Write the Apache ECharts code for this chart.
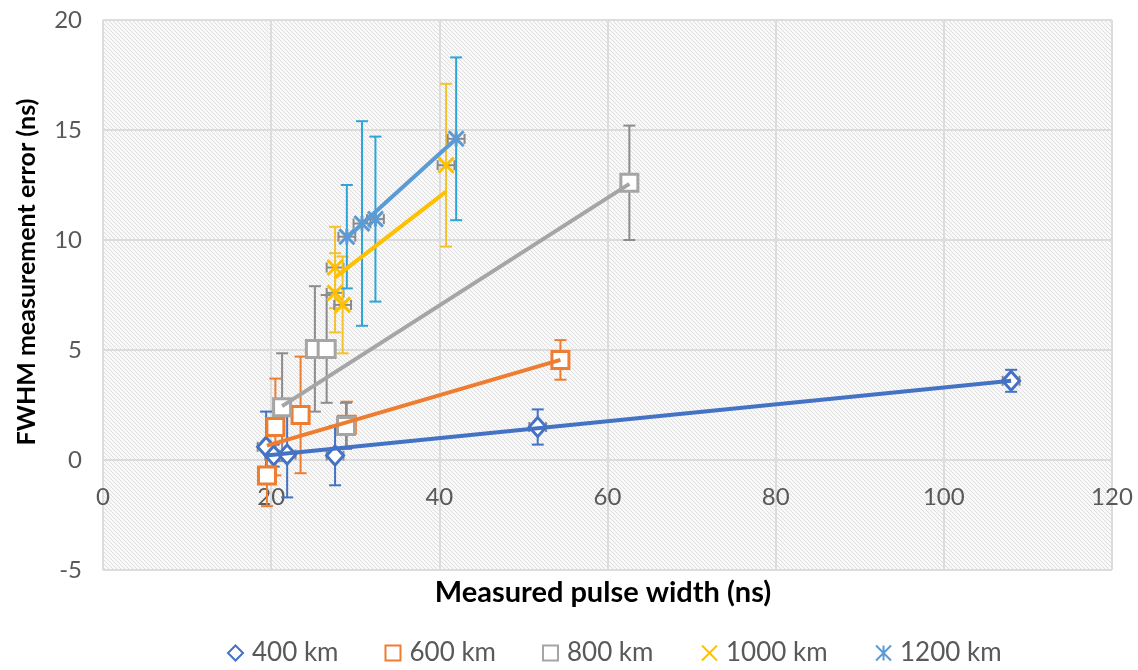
<!DOCTYPE html>
<html>
<head>
<meta charset="utf-8">
<title>FWHM measurement error vs measured pulse width</title>
<script src="https://cdn.jsdelivr.net/npm/echarts@6/dist/echarts.min.js"></script>
<style>
  html, body { margin: 0; padding: 0; background: #ffffff; }
  #chart { width: 1138px; height: 670px; }
</style>
</head>
<body>
<div id="chart"></div>
<script>
// ---- Data: measured pulse width (ns), FWHM error (ns), error bars ----
const seriesNames = ['400 km', '600 km', '800 km', '1000 km', '1200 km'];

const x400  = [19.4, 20.3, 21.9, 27.6, 51.7, 108.0];
const y400  = [0.6, 0.2, 0.25, 0.2, 1.5, 3.6];
const ey400 = [1.6, 0.5, 1.95, 1.35, 0.8, 0.5];
const ex400 = [1.0, 1.0, 1.0, 1.0, 1.0, 1.0];

const x600  = [19.5, 20.5, 23.5, 29.0, 54.4];
const y600  = [-0.7, 1.5, 2.05, 1.6, 4.55];
const ey600 = [1.4, 2.2, 2.65, 1.05, 0.9];
const ex600 = [1.0, 1.0, 1.0, 1.0, 1.0];

const x800  = [21.3, 25.2, 26.6, 28.9, 62.6];
const y800  = [2.4, 5.05, 5.05, 1.55, 12.6];
const ey800 = [2.45, 2.85, 2.45, 1.05, 2.6];
const ex800 = [1.0, 1.0, 1.0, 1.0, 1.0];

const x1000  = [27.6, 27.6, 28.5, 40.8];
const y1000  = [8.75, 7.6, 7.05, 13.4];
const ey1000 = [1.85, 1.8, 2.2, 3.7];
const ex1000 = [1.0, 1.0, 1.0, 1.0];

const x1200  = [29.0, 30.8, 32.4, 42.0];
const y1200  = [10.15, 10.75, 10.95, 14.6];
const ey1200 = [2.35, 4.65, 3.75, 3.7];
const ex1200 = [1.0, 1.0, 1.0, 1.0];

// Linear trend lines: [start, end] points
const trend400  = [[19.4, 0.2], [108.0, 3.6]];
const trend600  = [[19.5, 0.65], [54.4, 4.55]];
const trend800  = [[21.3, 2.45], [62.6, 12.55]];
const trend1000 = [[27.6, 8.3], [40.8, 12.2]];
const trend1200 = [[29.0, 10.1], [42.0, 14.6]];

// Axis ticks
const xTicks = { min: 0, max: 120, interval: 20 };
const yTicks = { min: -5, max: 20, interval: 5 };

// ---- Styling ----
const FONT = 'Lato, "Open Sans", sans-serif';
const markerColors = ['#4472C4', '#ED7D31', '#A5A5A5', '#FFC000', '#5B9BD5'];
const barColors    = ['#4472C4', '#ED7D31', '#8C8C8C', '#F5C22A', '#2CA6D8'];
const xBarColor = '#8A8A8A';
const gridColor = '#dcdcdc';

const X_PATH = 'path://M0,0L10,10M10,0L0,10';
const STAR_PATH = 'path://M0,0L10,10M10,0L0,10M5,0L5,10';

// Hatched plot-area fill
const hatch = document.createElement('canvas');
hatch.width = 4; hatch.height = 4;
(function () {
  const g = hatch.getContext('2d');
  g.fillStyle = '#f9f9f9';
  g.fillRect(0, 0, 4, 4);
  g.fillStyle = '#dedede';
  for (let i = 0; i < 4; i++) g.fillRect(i, i, 1, 1);
})();

function errorBars(name, xs, ys, eys, exs, color) {
  return {
    type: 'custom',
    name: name,
    z: 2,
    silent: true,
    clip: false,
    data: xs.map((x, i) => [x, ys[i], eys[i], exs[i]]),
    encode: { x: 0, y: 1 },
    renderItem: function (params, api) {
      const x = api.value(0), y = api.value(1), ey = api.value(2), ex = api.value(3);
      const top = api.coord([x, y + ey]);
      const bot = api.coord([x, y - ey]);
      const lft = api.coord([x - ex, y]);
      const rgt = api.coord([x + ex, y]);
      const cw = 6, ch = 5;
      const vs = { stroke: color, lineWidth: 2 };
      const hs = { stroke: xBarColor, lineWidth: 2 };
      return {
        type: 'group',
        children: [
          { type: 'line', shape: { x1: top[0], y1: top[1], x2: bot[0], y2: bot[1] }, style: vs },
          { type: 'line', shape: { x1: top[0] - cw, y1: top[1], x2: top[0] + cw, y2: top[1] }, style: vs },
          { type: 'line', shape: { x1: bot[0] - cw, y1: bot[1], x2: bot[0] + cw, y2: bot[1] }, style: vs },
          { type: 'line', shape: { x1: lft[0], y1: lft[1], x2: rgt[0], y2: rgt[1] }, style: hs },
          { type: 'line', shape: { x1: lft[0], y1: lft[1] - ch, x2: lft[0], y2: lft[1] + ch }, style: hs },
          { type: 'line', shape: { x1: rgt[0], y1: rgt[1] - ch, x2: rgt[0], y2: rgt[1] + ch }, style: hs }
        ]
      };
    }
  };
}

function markers(name, xs, ys, symbol, size, color, filled) {
  return {
    type: 'scatter',
    name: name,
    z: 3,
    symbol: symbol,
    symbolSize: size,
    data: xs.map((x, i) => [x, ys[i]]),
    itemStyle: {
      color: filled ? '#ffffff' : 'none',
      borderColor: color,
      borderWidth: 3,
      opacity: 1
    },
    emphasis: { disabled: true }
  };
}

function trend(name, pts, color) {
  return {
    type: 'line',
    name: name,
    z: 4,
    silent: true,
    showSymbol: false,
    data: pts,
    lineStyle: { color: color, width: 4 },
    itemStyle: { color: color }
  };
}

const groups = [
  { x: x400,  y: y400,  ey: ey400,  ex: ex400,  t: trend400,  sym: 'diamond', size: [17, 19], filled: true },
  { x: x600,  y: y600,  ey: ey600,  ex: ex600,  t: trend600,  sym: 'rect',    size: 17, filled: true },
  { x: x800,  y: y800,  ey: ey800,  ex: ex800,  t: trend800,  sym: 'rect',    size: 17, filled: true },
  { x: x1000, y: y1000, ey: ey1000, ex: ex1000, t: trend1000, sym: X_PATH,    size: 15, filled: false },
  { x: x1200, y: y1200, ey: ey1200, ex: ex1200, t: trend1200, sym: STAR_PATH, size: 15, filled: false }
];

const series = [];
groups.forEach((g, i) => {
  series.push(errorBars(seriesNames[i] + ' error', g.x, g.y, g.ey, g.ex, barColors[i]));
});
groups.forEach((g, i) => {
  series.push(markers(seriesNames[i], g.x, g.y, g.sym, g.size, markerColors[i], g.filled));
});
groups.forEach((g, i) => {
  series.push(trend(seriesNames[i] + ' trend', g.t, markerColors[i]));
});

const legendIcons = ['diamond', 'rect', 'rect', X_PATH, STAR_PATH];

const chart = echarts.init(document.getElementById('chart'), null, { renderer: 'canvas' });
chart.setOption({
  animation: false,
  backgroundColor: '#ffffff',
  textStyle: { fontFamily: FONT },
  grid: {
    left: 103, right: 26, top: 20, bottom: 100,
    show: true,
    borderWidth: 0,
    backgroundColor: { image: hatch, repeat: 'repeat' }
  },
  xAxis: {
    type: 'value',
    min: xTicks.min, max: xTicks.max, interval: xTicks.interval,
    // axis sits at the bottom edge; labels are pulled up to sit just under y = 0
    axisLine: { show: false, onZero: false },
    axisTick: { show: false },
    axisLabel: { color: '#595959', fontSize: 24, fontFamily: FONT, margin: -85 },
    splitLine: { show: true, lineStyle: { color: gridColor, width: 2 } }
  },
  yAxis: {
    type: 'value',
    min: yTicks.min, max: yTicks.max, interval: yTicks.interval,
    axisLine: { show: false },
    axisTick: { show: false },
    axisLabel: { color: '#595959', fontSize: 24, fontFamily: FONT, margin: 21 },
    splitLine: { show: true, lineStyle: { color: gridColor, width: 2 } }
  },
  legend: {
    left: 222, top: 635,
    itemGap: 46,
    itemWidth: 15, itemHeight: 15,
    textStyle: { color: '#595959', fontSize: 26, fontFamily: FONT, padding: [0, 0, 0, 4] },
    data: seriesNames.map((n, i) => ({ name: n, icon: legendIcons[i] }))
  },
  graphic: [
    {
      type: 'text',
      x: 603, y: 593,
      style: {
        text: 'Measured pulse width (ns)',
        font: 'bold 29px ' + FONT,
        fill: '#000000',
        align: 'center',
        verticalAlign: 'middle'
      }
    },
    {
      type: 'text',
      x: 27, y: 272,
      rotation: Math.PI / 2,
      style: {
        text: 'FWHM measurement error (ns)',
        font: 'bold 25px ' + FONT,
        fill: '#000000',
        align: 'center',
        verticalAlign: 'middle'
      }
    }
  ],
  series: series
});
</script>
</body>
</html>
